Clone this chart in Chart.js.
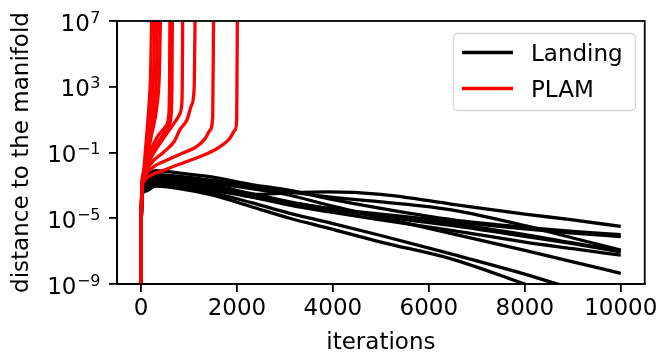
<!DOCTYPE html>
<html>
<head>
<meta charset="utf-8">
<script src="https://cdn.jsdelivr.net/npm/chart.js@4.4.0/dist/chart.umd.min.js"></script>
<style>
  html, body { margin: 0; padding: 0; background: #fff; }
  #wrap { width: 661px; height: 354px; }
</style>
</head>
<body>
<div id="wrap"><canvas id="chart" width="661" height="354"></canvas></div>
<script>
// ---- data ----
const legendLabels = ['Landing', 'PLAM'];
const xTicks = [0, 2000, 4000, 6000, 8000, 10000];
const yTicks = [1e-9, 1e-5, 1e-1, 1e3, 1e7];
const yTickExponents = ['\u22129', '\u22125', '\u22121', '3', '7'];

// Landing runs: all share the same iteration grid
const landingIters = [0, 8, 25, 100, 300, 800, 1500, 2300, 3100, 3900, 5000, 6500, 8000, 9000, 10000];
const landing1  = [1e-10, 1e-5, 3e-4, 6.31e-4, 1.26e-3, 1.0e-3, 5.01e-4, 2.82e-4, 3.55e-4, 3.98e-4, 2.82e-4, 7.08e-5, 1.78e-5, 7.94e-6, 3.16e-6];
const landing2  = [1e-10, 1e-5, 3e-4, 2.0e-3, 7.94e-3, 5.62e-3, 3.16e-3, 1.12e-3, 5.01e-4, 1.58e-4, 3.98e-5, 7.94e-6, 2.82e-6, 1.58e-6, 1.0e-6];
const landing3  = [1e-10, 1e-5, 3e-4, 6.31e-4, 1.26e-3, 1.0e-3, 5.01e-4, 2.0e-4, 8.91e-5, 3.98e-5, 1.78e-5, 6.31e-6, 2.24e-6, 1.26e-6, 7.59e-7];
const landing4  = [1e-10, 1e-5, 3e-4, 2.24e-3, 4.47e-3, 3.55e-3, 2.0e-3, 8.91e-4, 3.98e-4, 2.0e-4, 1.0e-4, 3.16e-5, 3.55e-6, 6.31e-7, 1.17e-7];
const landing5  = [1e-10, 1e-5, 3e-4, 1.26e-3, 2.51e-3, 2.0e-3, 1.0e-3, 3.16e-4, 1.0e-4, 3.98e-5, 1.26e-5, 3.55e-6, 7.94e-7, 2.82e-7, 8.91e-8];
const landing6  = [1e-10, 1e-5, 3e-4, 7.94e-4, 1.58e-3, 1.26e-3, 6.31e-4, 2.0e-4, 6.31e-5, 2.51e-5, 7.94e-6, 1.78e-6, 3.55e-7, 1.41e-7, 5.62e-8];
const landing7  = [1e-10, 1e-5, 3e-4, 1.58e-3, 3.16e-3, 2.82e-3, 1.41e-3, 6.31e-4, 2.51e-4, 6.31e-5, 1.12e-5, 1.12e-6, 1.12e-7, 2.24e-8, 4.47e-9];
const landing8  = [1e-10, 1e-5, 3e-4, 1.0e-3, 2.0e-3, 1.58e-3, 7.94e-4, 2.51e-4, 7.94e-5, 3.55e-5, 1.41e-5, 4.47e-6, 1.0e-6, 3.16e-7, 1.0e-7];
const landing9  = [1e-10, 1e-5, 3e-4, 5.62e-4, 1.12e-3, 7.94e-4, 3.55e-4, 8.91e-5, 2.0e-5, 5.62e-6, 8.91e-7, 6.31e-8, 3.98e-9, 5.01e-10, 6.31e-11];
const landing10 = [1e-10, 1e-5, 3e-4, 4.47e-4, 8.91e-4, 6.31e-4, 2.51e-4, 5.01e-5, 1.0e-5, 2.51e-6, 3.55e-7, 3.16e-8, 1.0e-9, 1.0e-10, 1.0e-11];

// PLAM runs: each blows up at its own iteration, so each has its own grid
const plamIters1  = [0, 5, 15, 50, 100, 150, 200, 228];
const plam1       = [1e-10, 1e-6, 3.16e-4, 5.01e-3, 0.251, 15.8, 6310, 1e8];
const plamIters2  = [0, 5, 15, 50, 110, 170, 230, 270, 290];
const plam2       = [1e-10, 1e-6, 3.16e-4, 3.98e-3, 0.126, 3.98, 200, 3.16e4, 1e8];
const plamIters3  = [0, 5, 15, 50, 120, 200, 280, 325, 350];
const plam3       = [1e-10, 1e-6, 3.16e-4, 3.16e-3, 7.94e-2, 2.51, 100, 1e4, 1e8];
const plamIters4  = [0, 5, 15, 50, 130, 230, 330, 385, 410];
const plam4       = [1e-10, 1e-6, 3.16e-4, 2.82e-3, 6.31e-2, 1.58, 63.1, 1e4, 1e8];
const plamIters5  = [0, 5, 15, 50, 180, 350, 520, 575, 595, 605];
const plam5       = [1e-10, 1e-6, 5.01e-4, 6.31e-3, 0.1, 1, 3.98, 15.8, 1000, 1e8];
const plamIters6  = [0, 5, 15, 50, 187, 396, 560, 625, 645, 655];
const plam6       = [1e-10, 1e-6, 3.98e-4, 5.01e-3, 6.31e-2, 0.631, 3.16, 15.8, 1000, 1e8];
const plamIters7  = [0, 5, 15, 50, 187, 396, 640, 800, 848, 860, 870];
const plam7       = [1e-10, 1e-6, 3.16e-4, 3.98e-3, 3.55e-2, 0.363, 3.72, 20, 79.4, 1000, 1e8];
const plamIters8  = [0, 5, 15, 50, 200, 465, 700, 812, 960, 1056, 1110, 1130];
const plam8       = [1e-10, 1e-6, 2.51e-4, 2.51e-3, 2.0e-2, 0.1, 0.501, 2.51, 10, 79.4, 1000, 1e8];
const plamIters9  = [0, 5, 15, 60, 250, 550, 900, 1160, 1350, 1440, 1495, 1515];
const plam9       = [1e-10, 1e-6, 2.0e-4, 2.51e-3, 1.26e-2, 3.55e-2, 0.1, 0.229, 0.794, 2.34, 15.8, 1e8];
const plamIters10 = [0, 5, 15, 60, 200, 500, 1000, 1400, 1650, 1850, 1960, 1995, 2010];
const plam10      = [1e-10, 1e-6, 2.0e-4, 1.78e-3, 3.98e-3, 8.91e-3, 3.16e-2, 8.91e-2, 0.229, 0.708, 2.34, 10, 1e8];

const FONT = 'DejaVu Sans';
const FONT_SIZE = 23;
const LINE_W = 3.3;
const AXIS_W = 1.8;

function toPoints(xs, ys) {
    return xs.map((x, i) => ({ x: x, y: ys[i] }));
}

function runDataset(label, xs, ys, color, order) {
    return {
        label: label,
        data: toPoints(xs, ys),
        borderColor: color,
        backgroundColor: color,
        borderWidth: LINE_W,
        pointRadius: 0,
        fill: false,
        cubicInterpolationMode: 'monotone',
        order: order
    };
}

const landingRuns = [landing1, landing2, landing3, landing4, landing5, landing6, landing7, landing8, landing9, landing10];
const plamRuns = [
    [plamIters1, plam1], [plamIters2, plam2], [plamIters3, plam3], [plamIters4, plam4], [plamIters5, plam5],
    [plamIters6, plam6], [plamIters7, plam7], [plamIters8, plam8], [plamIters9, plam9], [plamIters10, plam10]
];

const datasets = [];
// red drawn on top of black -> lower order
plamRuns.forEach(r => datasets.push(runDataset(legendLabels[1], r[0], r[1], '#ff0000', 0)));
landingRuns.forEach(ys => datasets.push(runDataset(legendLabels[0], landingIters, ys, '#000000', 1)));

// top/right spines like matplotlib's box
const framePlugin = {
    id: 'frame',
    afterDatasetsDraw(chart) {
        const { ctx, chartArea: a } = chart;
        ctx.save();
        ctx.strokeStyle = '#000';
        ctx.lineWidth = AXIS_W;
        ctx.strokeRect(a.left, a.top, a.right - a.left, a.bottom - a.top);
        ctx.restore();
    }
};

// log tick labels as "10" with a raised exponent (mathtext look)
const powerTicksPlugin = {
    id: 'powerTicks',
    afterDraw(chart) {
        const ctx = chart.ctx;
        const y = chart.scales.y;
        const right = 100;
        ctx.save();
        ctx.fillStyle = '#000';
        ctx.textAlign = 'left';
        ctx.textBaseline = 'alphabetic';
        yTicks.forEach((v, i) => {
            const py = y.getPixelForValue(v);
            const exp = yTickExponents[i];
            ctx.font = '16px "' + FONT + '"';
            const expW = ctx.measureText(exp).width;
            ctx.font = FONT_SIZE + 'px "' + FONT + '"';
            const baseW = ctx.measureText('10').width;
            const x0 = right - expW - baseW;
            ctx.fillText('10', x0, py + 9.5);
            ctx.font = '16px "' + FONT + '"';
            ctx.fillText(exp, x0 + baseW + 0.5, py + 1.5);
        });
        ctx.restore();
    }
};

// boxed legend in the upper right corner
const legendPlugin = {
    id: 'boxLegend',
    afterDraw(chart) {
        const ctx = chart.ctx;
        const colors = ['#000000', '#ff0000'];
        ctx.save();
        ctx.beginPath();
        ctx.roundRect(453.5, 33.5, 182, 77, 4);
        ctx.fillStyle = 'rgba(255,255,255,0.8)';
        ctx.fill();
        ctx.strokeStyle = '#d5d5d5';
        ctx.lineWidth = 1.3;
        ctx.stroke();
        legendLabels.forEach((label, i) => {
            const y = 52.5 + i * 36;
            ctx.beginPath();
            ctx.moveTo(462, y);
            ctx.lineTo(513, y);
            ctx.strokeStyle = colors[i];
            ctx.lineWidth = LINE_W;
            ctx.stroke();
            ctx.fillStyle = '#000';
            ctx.font = FONT_SIZE + 'px "' + FONT + '"';
            ctx.textBaseline = 'alphabetic';
            ctx.textAlign = 'left';
            ctx.fillText(label, 531, y + 8.5);
        });
        ctx.restore();
    }
};

new Chart(document.getElementById('chart'), {
    type: 'line',
    data: { datasets: datasets },
    options: {
        responsive: false,
        animation: false,
        layout: { padding: { left: 0, top: 21, right: 15, bottom: 0 } },
        plugins: {
            legend: { display: false },
            tooltip: { enabled: false }
        },
        scales: {
            x: {
                type: 'linear',
                min: -500,
                max: 10500,
                afterBuildTicks: scale => { scale.ticks = xTicks.map(v => ({ value: v })); },
                afterFit: scale => { scale.height = 70; },
                ticks: {
                    color: '#000',
                    font: { family: FONT, size: FONT_SIZE },
                    padding: 3,
                    maxRotation: 0,
                    autoSkip: false,
                    callback: v => String(v)
                },
                grid: { display: true, drawOnChartArea: false, drawTicks: true, tickLength: 8, color: '#000', lineWidth: AXIS_W },
                border: { display: true, color: '#000', width: AXIS_W },
                title: { display: true, text: 'iterations', color: '#000', font: { family: FONT, size: FONT_SIZE }, padding: { top: 0, bottom: -3 } }
            },
            y: {
                type: 'logarithmic',
                min: 1e-9,
                max: 1e7,
                afterBuildTicks: scale => { scale.ticks = yTicks.map(v => ({ value: v })); },
                afterFit: scale => { scale.width = 117; },
                ticks: { display: false },
                grid: { display: true, drawOnChartArea: false, drawTicks: true, tickLength: 8, color: '#000', lineWidth: AXIS_W },
                border: { display: true, color: '#000', width: AXIS_W },
                title: { display: true, text: 'distance to the manifold', color: '#000', font: { family: FONT, size: FONT_SIZE }, padding: { top: 8, bottom: 0 } }
            }
        }
    },
    plugins: [framePlugin, powerTicksPlugin, legendPlugin]
});
</script>
</body>
</html>
